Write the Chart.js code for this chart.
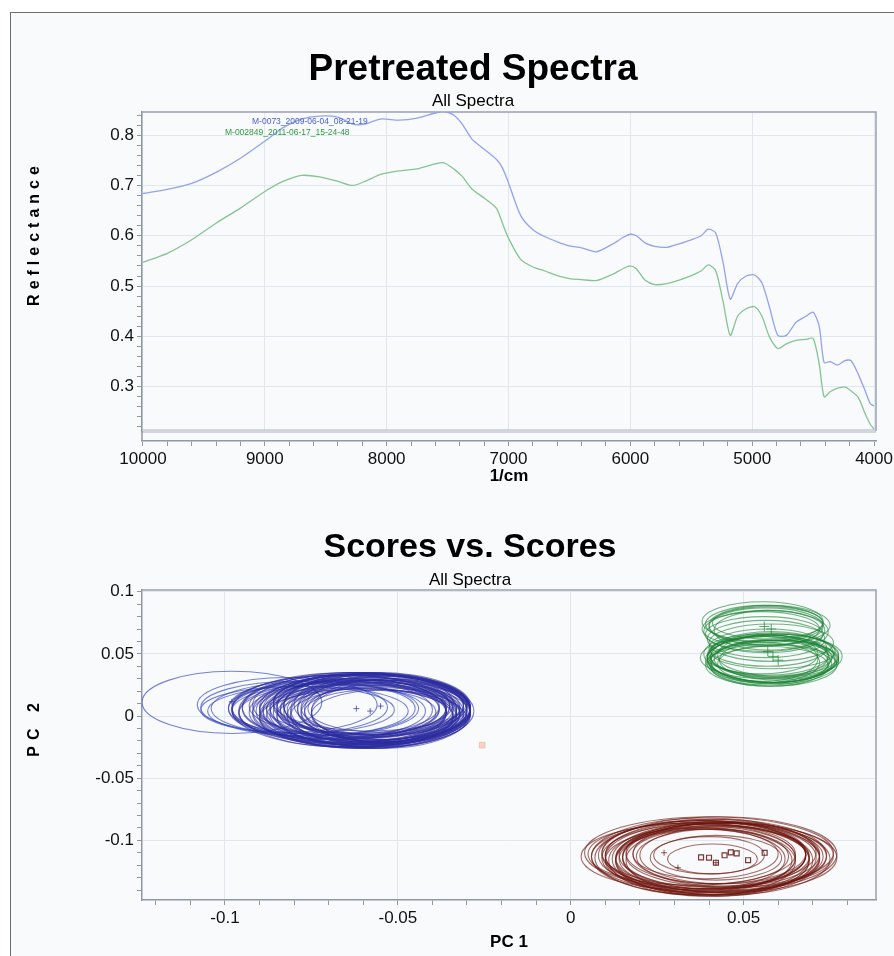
<!DOCTYPE html>
<html>
<head>
<meta charset="utf-8">
<title>Pretreated Spectra / Scores vs. Scores</title>
<script src="https://cdn.jsdelivr.net/npm/chart.js@4.4.1/dist/chart.umd.min.js"></script>
<style>
  html, body { margin: 0; padding: 0; background: #fff; overflow: hidden; }
  #panel {
    position: absolute; left: 10px; top: 12px; width: 900px; height: 960px;
    border-left: 1.5px solid #6e6e6e; border-top: 1.5px solid #6e6e6e;
    background: #f9fafc;
  }
  canvas { position: absolute; left: 0; }
  #spectra { top: 40px; }
  #scores { top: 500px; }
</style>
</head>
<body>
<div id="panel"></div>
<canvas id="spectra" width="894" height="460"></canvas>
<canvas id="scores" width="894" height="456"></canvas>
<script>
// ---- Pretreated spectra (1/cm vs reflectance) ----
const wavenumbers = [10000, 9800, 9600, 9400, 9200, 9000, 8850, 8700, 8550, 8400, 8280, 8180, 8050, 7900,
  7750, 7600, 7530, 7450, 7380, 7300, 7200, 7100, 7050, 7000, 6900, 6800, 6700, 6600, 6500, 6400,
  6280, 6150, 6050, 6000, 5950, 5880, 5800, 5700, 5600, 5500, 5420, 5360, 5300, 5240, 5180, 5120,
  5050, 4980, 4920, 4860, 4790, 4720, 4640, 4560, 4500, 4450, 4410, 4360, 4300, 4240, 4190, 4130,
  4070, 4030, 4000];
const reflectance0073 = [0.684, 0.692, 0.704, 0.726, 0.754, 0.788, 0.815, 0.832, 0.838, 0.836, 0.822, 0.822, 0.832, 0.830,
  0.834, 0.844, 0.847, 0.840, 0.822, 0.792, 0.772, 0.752, 0.735, 0.705, 0.640, 0.612, 0.598, 0.588, 0.580, 0.576,
  0.568, 0.583, 0.598, 0.603, 0.600, 0.586, 0.579, 0.577, 0.584, 0.592, 0.600, 0.613, 0.606, 0.548, 0.474, 0.505,
  0.520, 0.522, 0.506, 0.460, 0.402, 0.402, 0.428, 0.440, 0.448, 0.420, 0.348, 0.350, 0.343, 0.352, 0.352, 0.325,
  0.290, 0.266, 0.262];
const reflectance2849 = [0.547, 0.565, 0.592, 0.625, 0.655, 0.688, 0.708, 0.720, 0.717, 0.708, 0.700, 0.708, 0.722, 0.729,
  0.733, 0.743, 0.745, 0.733, 0.718, 0.693, 0.675, 0.655, 0.625, 0.595, 0.553, 0.538, 0.530, 0.521, 0.515, 0.513,
  0.511, 0.523, 0.536, 0.540, 0.534, 0.512, 0.503, 0.505, 0.512, 0.521, 0.530, 0.542, 0.531, 0.470, 0.402, 0.440,
  0.455, 0.459, 0.440, 0.400, 0.376, 0.385, 0.392, 0.394, 0.396, 0.345, 0.280, 0.290, 0.297, 0.299, 0.292, 0.279,
  0.245, 0.225, 0.216];
const spectraNames = ['M-0073_2009-06-04_08-21-19', 'M-002849_2011-06-17_15-24-48'];
// where the two name tags sit, in data units (wavenumber, reflectance)
const nameTagX = [9105, 9327];
const nameTagY = [0.823, 0.801];

// labelled ticks; four unlabelled minor ticks sit between each pair
const wavenumberTicks = [10000, 9000, 8000, 7000, 6000, 5000, 4000];
const reflectanceTicks = [0.3, 0.4, 0.5, 0.6, 0.7, 0.8];
const pc1Ticks = [-0.1, -0.05, 0, 0.05];
const pc2Ticks = [-0.1, -0.05, 0, 0.05, 0.1];

// ---- Scores vs. Scores: one ellipse per spectrum [pc1, pc2, halfWidth, halfHeight] ----
const blueOuterEllipses = [
  [-0.098, 0.011, 0.026, 0.025], [-0.080, 0.007, 0.027, 0.021], [-0.079, 0.005, 0.028, 0.019],
  [-0.072, 0.006, 0.027, 0.021], [-0.070, 0.004, 0.028, 0.022], [-0.068, 0.006, 0.030, 0.024],
  [-0.082, 0.009, 0.026, 0.022], [-0.076, 0.004, 0.029, 0.020], [-0.074, 0.006, 0.030, 0.022]
];
const blueEllipses = [
  [-0.064, 0.005, 0.034, 0.030], [-0.062, 0.006, 0.033, 0.028], [-0.061, 0.004, 0.031, 0.029],
  [-0.060, 0.007, 0.030, 0.027], [-0.059, 0.003, 0.030, 0.028], [-0.058, 0.005, 0.029, 0.026],
  [-0.060, 0.002, 0.027, 0.025], [-0.057, 0.006, 0.028, 0.027], [-0.058, 0.004, 0.026, 0.024],
  [-0.056, 0.003, 0.027, 0.026], [-0.057, 0.008, 0.026, 0.025], [-0.059, 0.006, 0.025, 0.023],
  [-0.055, 0.005, 0.026, 0.027], [-0.061, 0.001, 0.029, 0.024], [-0.063, 0.003, 0.030, 0.026],
  [-0.056, 0.000, 0.025, 0.023], [-0.058, 0.009, 0.027, 0.024], [-0.054, 0.004, 0.024, 0.025],
  [-0.060, 0.005, 0.022, 0.021], [-0.057, 0.002, 0.021, 0.022], [-0.055, 0.007, 0.023, 0.022],
  [-0.062, 0.008, 0.024, 0.022], [-0.059, -0.001, 0.026, 0.023], [-0.053, 0.003, 0.022, 0.024],
  [-0.056, 0.006, 0.020, 0.019], [-0.058, 0.003, 0.019, 0.018], [-0.054, 0.001, 0.021, 0.020],
  [-0.060, 0.006, 0.028, 0.020], [-0.064, 0.002, 0.032, 0.025], [-0.066, 0.006, 0.033, 0.027],
  [-0.059, 0.005, 0.030, 0.029], [-0.052, 0.004, 0.023, 0.026], [-0.055, 0.009, 0.025, 0.025],
  [-0.061, 0.000, 0.027, 0.022], [-0.065, 0.004, 0.031, 0.029], [-0.063, 0.007, 0.032, 0.028],
  [-0.062, 0.002, 0.030, 0.027], [-0.061, 0.009, 0.031, 0.026], [-0.059, 0.004, 0.031, 0.030],
  [-0.058, 0.007, 0.029, 0.028], [-0.057, 0.001, 0.028, 0.026], [-0.056, 0.008, 0.027, 0.027],
  [-0.060, 0.010, 0.026, 0.025], [-0.062, -0.001, 0.028, 0.024], [-0.055, 0.002, 0.026, 0.028],
  [-0.054, 0.006, 0.025, 0.027], [-0.059, 0.008, 0.024, 0.026], [-0.061, 0.003, 0.025, 0.027],
  [-0.058, 0.000, 0.024, 0.025], [-0.056, 0.005, 0.023, 0.024], [-0.063, 0.005, 0.027, 0.023],
  [-0.064, 0.008, 0.029, 0.024], [-0.060, -0.002, 0.030, 0.024], [-0.058, 0.011, 0.028, 0.023],
  [-0.060, 0.004, 0.031, 0.030], [-0.057, 0.006, 0.028, 0.028], [-0.053, 0.005, 0.024, 0.027],
  [-0.062, 0.004, 0.026, 0.026], [-0.066, 0.003, 0.030, 0.025], [-0.067, 0.007, 0.031, 0.026],
  [-0.069, 0.005, 0.029, 0.024]
];
const greenEllipses = [
  [0.0555, 0.076, 0.0175, 0.016], [0.056, 0.074, 0.017, 0.015], [0.0565, 0.072, 0.0165, 0.015],
  [0.055, 0.070, 0.017, 0.014], [0.0575, 0.069, 0.016, 0.016], [0.057, 0.075, 0.016, 0.013],
  [0.056, 0.066, 0.017, 0.014], [0.058, 0.050, 0.018, 0.018], [0.0585, 0.047, 0.019, 0.020],
  [0.057, 0.045, 0.018, 0.019], [0.059, 0.044, 0.0185, 0.018], [0.0575, 0.048, 0.017, 0.017],
  [0.056, 0.043, 0.016, 0.016], [0.0595, 0.046, 0.018, 0.015], [0.058, 0.041, 0.019, 0.017],
  [0.057, 0.049, 0.0175, 0.016], [0.060, 0.045, 0.017, 0.016], [0.0555, 0.046, 0.016, 0.018],
  [0.0585, 0.052, 0.018, 0.014], [0.057, 0.055, 0.017, 0.015], [0.058, 0.059, 0.018, 0.015],
  [0.0565, 0.062, 0.017, 0.015], [0.059, 0.042, 0.0165, 0.015], [0.0575, 0.073, 0.0175, 0.016],
  [0.0565, 0.068, 0.018, 0.017], [0.058, 0.046, 0.0185, 0.019], [0.0595, 0.048, 0.019, 0.018],
  [0.057, 0.043, 0.0175, 0.018], [0.0585, 0.044, 0.018, 0.017], [0.0565, 0.047, 0.019, 0.017],
  [0.060, 0.049, 0.0175, 0.017], [0.055, 0.050, 0.0165, 0.016], [0.0575, 0.040, 0.017, 0.016]
];
const brownEllipses = [
  [0.040, -0.110, 0.036, 0.029], [0.043, -0.111, 0.034, 0.030], [0.039, -0.113, 0.033, 0.031],
  [0.041, -0.114, 0.031, 0.029], [0.038, -0.112, 0.030, 0.028], [0.042, -0.115, 0.030, 0.030],
  [0.040, -0.116, 0.029, 0.029], [0.044, -0.113, 0.029, 0.027], [0.037, -0.114, 0.028, 0.027],
  [0.041, -0.112, 0.027, 0.026], [0.043, -0.116, 0.027, 0.028], [0.039, -0.117, 0.026, 0.027],
  [0.042, -0.110, 0.026, 0.025], [0.040, -0.114, 0.025, 0.025], [0.038, -0.115, 0.024, 0.024],
  [0.044, -0.112, 0.024, 0.023], [0.041, -0.113, 0.022, 0.022], [0.039, -0.111, 0.021, 0.020],
  [0.042, -0.114, 0.019, 0.018], [0.040, -0.112, 0.016, 0.015], [0.041, -0.115, 0.013, 0.012],
  [0.035, -0.111, 0.030, 0.025], [0.046, -0.112, 0.030, 0.026], [0.036, -0.113, 0.033, 0.027],
  [0.045, -0.114, 0.032, 0.028], [0.040, -0.113, 0.034, 0.029], [0.042, -0.112, 0.032, 0.029],
  [0.038, -0.114, 0.031, 0.030], [0.044, -0.115, 0.031, 0.029], [0.041, -0.116, 0.028, 0.028],
  [0.039, -0.112, 0.029, 0.027], [0.043, -0.114, 0.028, 0.028], [0.045, -0.111, 0.027, 0.026],
  [0.037, -0.116, 0.027, 0.026], [0.040, -0.110, 0.031, 0.027]
];
// score markers
const blueCentres = [[-0.098, 0.0115], [-0.062, 0.006], [-0.058, 0.004], [-0.055, 0.008]];
const greenCentres = [[0.0585, 0.048], [0.057, 0.052], [0.060, 0.045], [0.056, 0.072], [0.058, 0.070]];
const brownSquares = [[0.0377, -0.1137], [0.040, -0.114], [0.0463, -0.1097], [0.048, -0.1105],
  [0.0513, -0.116], [0.0561, -0.110], [0.042, -0.118], [0.0445, -0.112]];
const brownCrosses = [[0.027, -0.110], [0.031, -0.122], [0.042, -0.118]];
const strayScore = [[-0.0256, -0.0234]];

const fontFamily = '"Liberation Sans", Arial, Helvetica, sans-serif';
const axisGrey = '#8e97a6';
const gridGrey = '#e1e7ee';

const fmt = (v) => String(parseFloat(v.toFixed(3)));
const pts = (list) => list.map(([x, y]) => ({ x, y }));
const inList = (list, v) => list.some((m) => Math.abs(m - v) < 1e-9);

// labelled ticks plus 4 minor ticks in each gap, across the whole axis range
function tickBuilder(majors) {
  return (scale) => {
    const lo = Math.min(...majors);
    const step = Math.abs(majors[1] - majors[0]) / 5;
    const ticks = [];
    for (let k = Math.ceil((scale.min - lo) / step - 1e-9); lo + k * step <= scale.max + 1e-9; k++) {
      ticks.push({ value: +(lo + k * step).toFixed(6) });
    }
    scale.ticks = ticks;
  };
}

// big title, subtitle and the spaced-out vertical axis title
const headings = {
  id: 'headings',
  afterDraw(chart, args, o) {
    const { ctx } = chart;
    ctx.save();
    ctx.fillStyle = '#000';
    ctx.textAlign = 'center';
    ctx.textBaseline = 'alphabetic';
    ctx.font = `bold ${o.titleSize}px ${fontFamily}`;
    ctx.fillText(o.title, o.titleX, o.titleY);
    ctx.font = `17px ${fontFamily}`;
    ctx.fillText(o.subtitle, o.titleX, o.subY);
    ctx.translate(o.yTitleX, o.yTitleY);
    ctx.rotate(-Math.PI / 2);
    ctx.textBaseline = 'middle';
    ctx.font = `bold 16px ${fontFamily}`;
    ctx.letterSpacing = o.spacing + 'px';
    ctx.fillText(o.yTitle, o.spacing / 2, 0);
    ctx.restore();
  }
};

// grey frame round the plot, plus the floor line of the spectra plot
const plotFrame = {
  id: 'plotFrame',
  beforeDatasetsDraw(chart, args, o) {
    const { ctx, chartArea: a } = chart;
    ctx.save();
    ctx.strokeStyle = '#98a1b0';
    ctx.lineWidth = 1.5;
    ctx.beginPath();
    ctx.moveTo(a.left, a.top);
    ctx.lineTo(a.right, a.top);
    ctx.lineTo(a.right, a.bottom);
    ctx.stroke();
    if (o.floor) {
      ctx.strokeStyle = '#a9b1bd';
      ctx.lineWidth = 1;
      [a.bottom - 1, a.bottom + 1].forEach((yy) => {
        ctx.beginPath();
        ctx.moveTo(a.left, yy);
        ctx.lineTo(a.right, yy);
        ctx.stroke();
      });
      ctx.strokeStyle = axisGrey;
      ctx.lineWidth = 1.5;
      ctx.beginPath();
      ctx.moveTo(a.left, a.bottom);
      ctx.lineTo(a.left, chart.scales.x.top);
      ctx.stroke();
    }
    ctx.restore();
  }
};

// spectrum name tags
const nameTags = {
  id: 'nameTags',
  afterDatasetsDraw(chart) {
    const { ctx, scales: { x, y } } = chart;
    ctx.save();
    ctx.font = `8.5px ${fontFamily}`;
    ctx.textAlign = 'left';
    ctx.textBaseline = 'alphabetic';
    spectraNames.forEach((name, i) => {
      ctx.fillStyle = chart.data.datasets[i].tagColor;
      ctx.fillText(name, x.getPixelForValue(nameTagX[i]), y.getPixelForValue(nameTagY[i]));
    });
    ctx.restore();
  }
};

const ellipseGroups = [
  { items: blueOuterEllipses, color: 'rgba(60,80,195,0.7)' },
  { items: blueEllipses, color: 'rgba(45,45,160,0.6)' },
  { items: greenEllipses, color: 'rgba(25,130,50,0.6)' },
  { items: brownEllipses, color: 'rgba(110,22,15,0.62)' }
];

// score ellipses, placed through the chart's own scales
const scoreEllipses = {
  id: 'scoreEllipses',
  beforeDatasetsDraw(chart) {
    const { ctx, chartArea: a, scales: { x, y } } = chart;
    ctx.save();
    ctx.beginPath();
    ctx.rect(a.left, a.top, a.width, a.height);
    ctx.clip();
    ctx.lineWidth = 1.1;
    ellipseGroups.forEach((g) => {
      ctx.strokeStyle = g.color;
      g.items.forEach(([cx, cy, rx, ry]) => {
        const px = x.getPixelForValue(cx);
        const py = y.getPixelForValue(cy);
        const rpx = Math.abs(x.getPixelForValue(cx + rx) - px);
        const rpy = Math.abs(y.getPixelForValue(cy + ry) - py);
        ctx.beginPath();
        ctx.ellipse(px, py, rpx, rpy, 0, 0, Math.PI * 2);
        ctx.stroke();
      });
    });
    ctx.restore();
  }
};

const tickFont = { family: fontFamily, size: 17 };
const titleFont = { family: fontFamily, size: 17, weight: 'bold' };

function axis(extra, majors) {
  return Object.assign({
    type: 'linear',
    afterBuildTicks: tickBuilder(majors),
    ticks: {
      autoSkip: false, maxRotation: 0, padding: 3, color: '#111', font: tickFont,
      callback: (v) => (inList(majors, v) ? fmt(v) : '')
    },
    grid: {
      color: (c) => (c.tick && inList(majors, c.tick.value) ? gridGrey : 'rgba(0,0,0,0)'),
      tickColor: axisGrey, tickLength: 5, lineWidth: 1
    },
    border: { color: axisGrey, width: 1.5 }
  }, extra);
}

new Chart(document.getElementById('spectra'), {
  type: 'line',
  data: {
    datasets: [
      {
        label: spectraNames[0], tagColor: '#4b60d4', xAxisID: 'x', yAxisID: 'y',
        data: wavenumbers.map((w, i) => ({ x: w, y: reflectance0073[i] })),
        borderColor: '#93a3ec', borderWidth: 1.3, pointRadius: 0, tension: 0.25
      },
      {
        label: spectraNames[1], tagColor: '#2f9a3f', xAxisID: 'x', yAxisID: 'y',
        data: wavenumbers.map((w, i) => ({ x: w, y: reflectance2849[i] })),
        borderColor: '#86c493', borderWidth: 1.3, pointRadius: 0, tension: 0.25
      }
    ]
  },
  options: {
    responsive: false, animation: false, devicePixelRatio: 1,
    layout: { padding: { top: 72, right: 18, left: 0, bottom: 0 } },
    plugins: {
      legend: { display: false }, tooltip: { enabled: false },
      headings: {
        title: 'Pretreated Spectra', titleSize: 37, titleX: 473, titleY: 40,
        subtitle: 'All Spectra', subY: 66,
        yTitle: 'Reflectance', yTitleX: 35, yTitleY: 196, spacing: 5
      },
      plotFrame: { floor: true }
    },
    scales: {
      x: axis({
        position: 'bottom', weight: 1, reverse: true, min: 3984, max: 10008,
        title: { display: true, text: '1/cm', color: '#000', font: titleFont, padding: { top: 0, bottom: 13 } },
        afterFit: (s) => { s.height = 59; }
      }, wavenumberTicks),
      xGap: {
        type: 'linear', position: 'bottom', axis: 'x', weight: 0,
        grid: { display: false }, ticks: { display: false }, border: { display: false },
        afterFit: (s) => { s.height = 10; }
      },
      y: axis({
        position: 'left', min: 0.212, max: 0.846,
        afterFit: (s) => { s.width = 142; }
      }, reflectanceTicks)
    }
  },
  plugins: [headings, plotFrame, nameTags]
});

new Chart(document.getElementById('scores'), {
  type: 'scatter',
  data: {
    datasets: [
      { data: pts(blueCentres), pointStyle: 'cross', pointRadius: 3, borderColor: 'rgba(48,48,165,0.7)', borderWidth: 1 },
      { data: pts(greenCentres), pointStyle: 'cross', pointRadius: 5, borderColor: 'rgba(25,130,50,0.7)', borderWidth: 1 },
      { data: pts(brownSquares), pointStyle: 'rect', pointRadius: 3.5, borderColor: 'rgba(100,20,15,0.85)', backgroundColor: 'rgba(0,0,0,0)', borderWidth: 1.2 },
      { data: pts(brownCrosses), pointStyle: 'cross', pointRadius: 3, borderColor: 'rgba(100,20,15,0.7)', borderWidth: 1 },
      { data: pts(strayScore), pointStyle: 'rect', pointRadius: 4, borderColor: 'rgba(240,180,160,0.7)', backgroundColor: 'rgba(245,195,178,0.7)', borderWidth: 1 }
    ]
  },
  options: {
    responsive: false, animation: false, devicePixelRatio: 1,
    layout: { padding: { top: 90, right: 18, left: 0, bottom: 0 } },
    plugins: {
      legend: { display: false }, tooltip: { enabled: false },
      headings: {
        title: 'Scores vs. Scores', titleSize: 34, titleX: 470, titleY: 57,
        subtitle: 'All Spectra', subY: 85,
        yTitle: 'PC 2', yTitleX: 35, yTitleY: 230, spacing: 6
      },
      plotFrame: { floor: false }
    },
    scales: {
      x: axis({
        position: 'bottom', min: -0.124, max: 0.0883,
        title: { display: true, text: 'PC 1', color: '#000', font: titleFont, padding: { top: 0, bottom: 3 } },
        afterFit: (s) => { s.height = 56; }
      }, pc1Ticks),
      y: axis({
        position: 'left', min: -0.148, max: 0.1014,
        afterFit: (s) => { s.width = 142; }
      }, pc2Ticks)
    }
  },
  plugins: [headings, plotFrame, scoreEllipses]
});
</script>
</body>
</html>
